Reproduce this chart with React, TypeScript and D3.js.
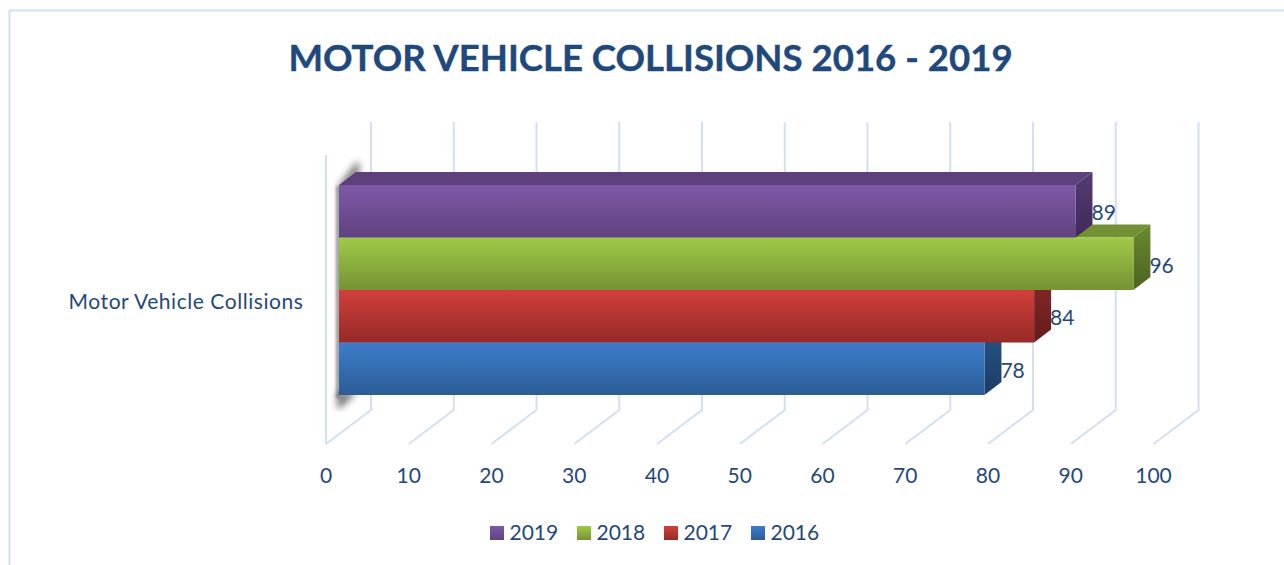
import React from "react";
import * as d3 from "d3";

const title = "MOTOR VEHICLE COLLISIONS 2016 - 2019";
const category = "Motor Vehicle Collisions";
const years = ["2019", "2018", "2017", "2016"];
const values = [89, 96, 84, 78];
const ticks = [0, 10, 20, 30, 40, 50, 60, 70, 80, 90, 100];
const frontColors = [
  ["#8059a8", "#5f4280"],
  ["#a0ca47", "#769233"],
  ["#d23f3b", "#962a28"],
  ["#3d7dcc", "#2b5c95"],
];
const topColors = ["#5e417c", "#739132", "#d13e3a", "#3a78c5"];
const sideColors = [
  ["#553b70", "#40295c"],
  ["#6b8a30", "#4c6320"],
  ["#85282a", "#651c1c"],
  ["#285487", "#1b3c64"],
];

const W = 1284, H = 565;
const TEXT = "#1f497d";
const GRID = "#d2e0f3";
const FONT = "Lato, Carlito, sans-serif";

// front plane of the floor grid
const x = d3.scaleLinear().domain([0, 100]).range([326, 1153.5]);
const wallDX = 45, wallDY = -34;
const wallBottom = 444, wallHeight = 289;
// bars sit slightly inside the box
const barX0 = 339;
const barDX = 17, barDY = -13;
const barX = (v: number) => barX0 + (x(v) - x(0));
const band = d3.scaleBand().domain(years).range([185, 395]);
const pts = (p: number[][]) => p.map((d) => d.join(",")).join(" ");

export default function App() {
  const bw = band.bandwidth();
  const order = years.map((_, i) => i).reverse();
  const line = d3.line();
  return (
    <svg
      width={W}
      height={H}
      viewBox={`0 0 ${W} ${H}`}
      style={{ position: "absolute", left: 0, top: 0, display: "block" }}
      fontFamily={FONT}
    >
      <defs>
        {frontColors.map((c, i) => (
          <linearGradient key={i} id={`f${i}`} x1="0" y1="0" x2="0" y2="1">
            <stop offset="0" stopColor={c[0]} />
            <stop offset="1" stopColor={c[1]} />
          </linearGradient>
        ))}
        {sideColors.map((c, i) => (
          <linearGradient key={i} id={`s${i}`} x1="0" y1="0" x2="0" y2="1">
            <stop offset="0" stopColor={c[0]} />
            <stop offset="1" stopColor={c[1]} />
          </linearGradient>
        ))}
        <filter id="blur" x="-100%" y="-20%" width="300%" height="140%">
          <feGaussianBlur stdDeviation="3.5" />
        </filter>
        <filter id="blurEdge" x="-300%" y="-5%" width="700%" height="110%">
          <feGaussianBlur stdDeviation="1.5" />
        </filter>
      </defs>
      <rect width={W} height={H} fill="#fff" />
      <path
        d={`M9.5 ${H} V10.5 H${W}`}
        fill="none"
        stroke={GRID}
        strokeWidth={2}
      />
      <text
        x={650.5}
        y={71}
        textAnchor="middle"
        fontSize={36.6}
        fontWeight={700}
        stroke={TEXT}
        strokeWidth={0.4}
        fill={TEXT}
      >
        {title}
      </text>

      {/* left wall front edge */}
      <path
        d={line([
          [x(0), wallBottom - wallHeight],
          [x(0), wallBottom],
        ]) as string}
        stroke={GRID}
        strokeWidth={2}
        fill="none"
      />
      {ticks.map((t) => (
        <path
          key={t}
          d={line([
            [x(t), wallBottom],
            [x(t) + wallDX, wallBottom + wallDY],
            [x(t) + wallDX, wallBottom + wallDY - wallHeight + 1],
          ]) as string}
          stroke={GRID}
          strokeWidth={2}
          fill="none"
        />
      ))}
      {ticks.map((t) => (
        <text
          key={t}
          x={x(t)}
          y={483}
          textAnchor="middle"
          fontSize={21}
          fill={TEXT}
        >
          {t}
        </text>
      ))}
      <text
        x={186}
        y={309}
        textAnchor="middle"
        fontSize={21}
        letterSpacing={0.55}
        fill={TEXT}
      >
        {category}
      </text>

      {/* soft shadow behind the left of the bars */}
      <polygon
        points={pts([
          [barX0 - 1, 186],
          [barX0 + barDX + 2, 160],
          [barX0 + barDX + 4, 174],
          [barX0 + 6, 190],
        ])}
        fill="#444"
        opacity={0.7}
        filter="url(#blur)"
      />
      <rect
        x={barX0 - 3}
        y={186}
        width={4}
        height={212}
        fill="#666"
        opacity={0.7}
        filter="url(#blurEdge)"
      />
      <polygon
        points={pts([
          [barX0 - 2, 392],
          [barX0 + 18, 392],
          [barX0 + 2, 408],
          [barX0 - 2, 408],
        ])}
        fill="#444"
        opacity={0.7}
        filter="url(#blur)"
      />

      {order.map((i) => {
        const y0 = band(years[i]) as number;
        const y1 = y0 + bw;
        const xe = barX(values[i]);
        return (
          <g key={years[i]}>
            <polygon
              points={pts([
                [barX0, y0],
                [barX0 + barDX, y0 + barDY],
                [xe + barDX, y0 + barDY],
                [xe, y0],
              ])}
              fill={topColors[i]}
            />
            <polygon
              points={pts([
                [xe, y0],
                [xe + barDX, y0 + barDY],
                [xe + barDX, y1 + barDY],
                [xe, y1],
              ])}
              fill={`url(#s${i})`}
            />
            <rect
              x={barX0}
              y={y0}
              width={xe - barX0}
              height={bw}
              fill={`url(#f${i})`}
            />
          </g>
        );
      })}
      {order.map((i) => (
        <text
          key={years[i]}
          x={barX(values[i]) + barDX - 1}
          y={(band(years[i]) as number) + 35}
          fontSize={21}
          fill={TEXT}
        >
          {values[i]}
        </text>
      ))}

      {years.map((yr, i) => {
        const lx = 490 + i * 87;
        return (
          <g key={yr}>
            <rect x={lx} y={526} width={14} height={14} fill={`url(#f${i})`} />
            <text x={lx + 19.5} y={540} fontSize={21} fill={TEXT}>
              {yr}
            </text>
          </g>
        );
      })}
    </svg>
  );
}
